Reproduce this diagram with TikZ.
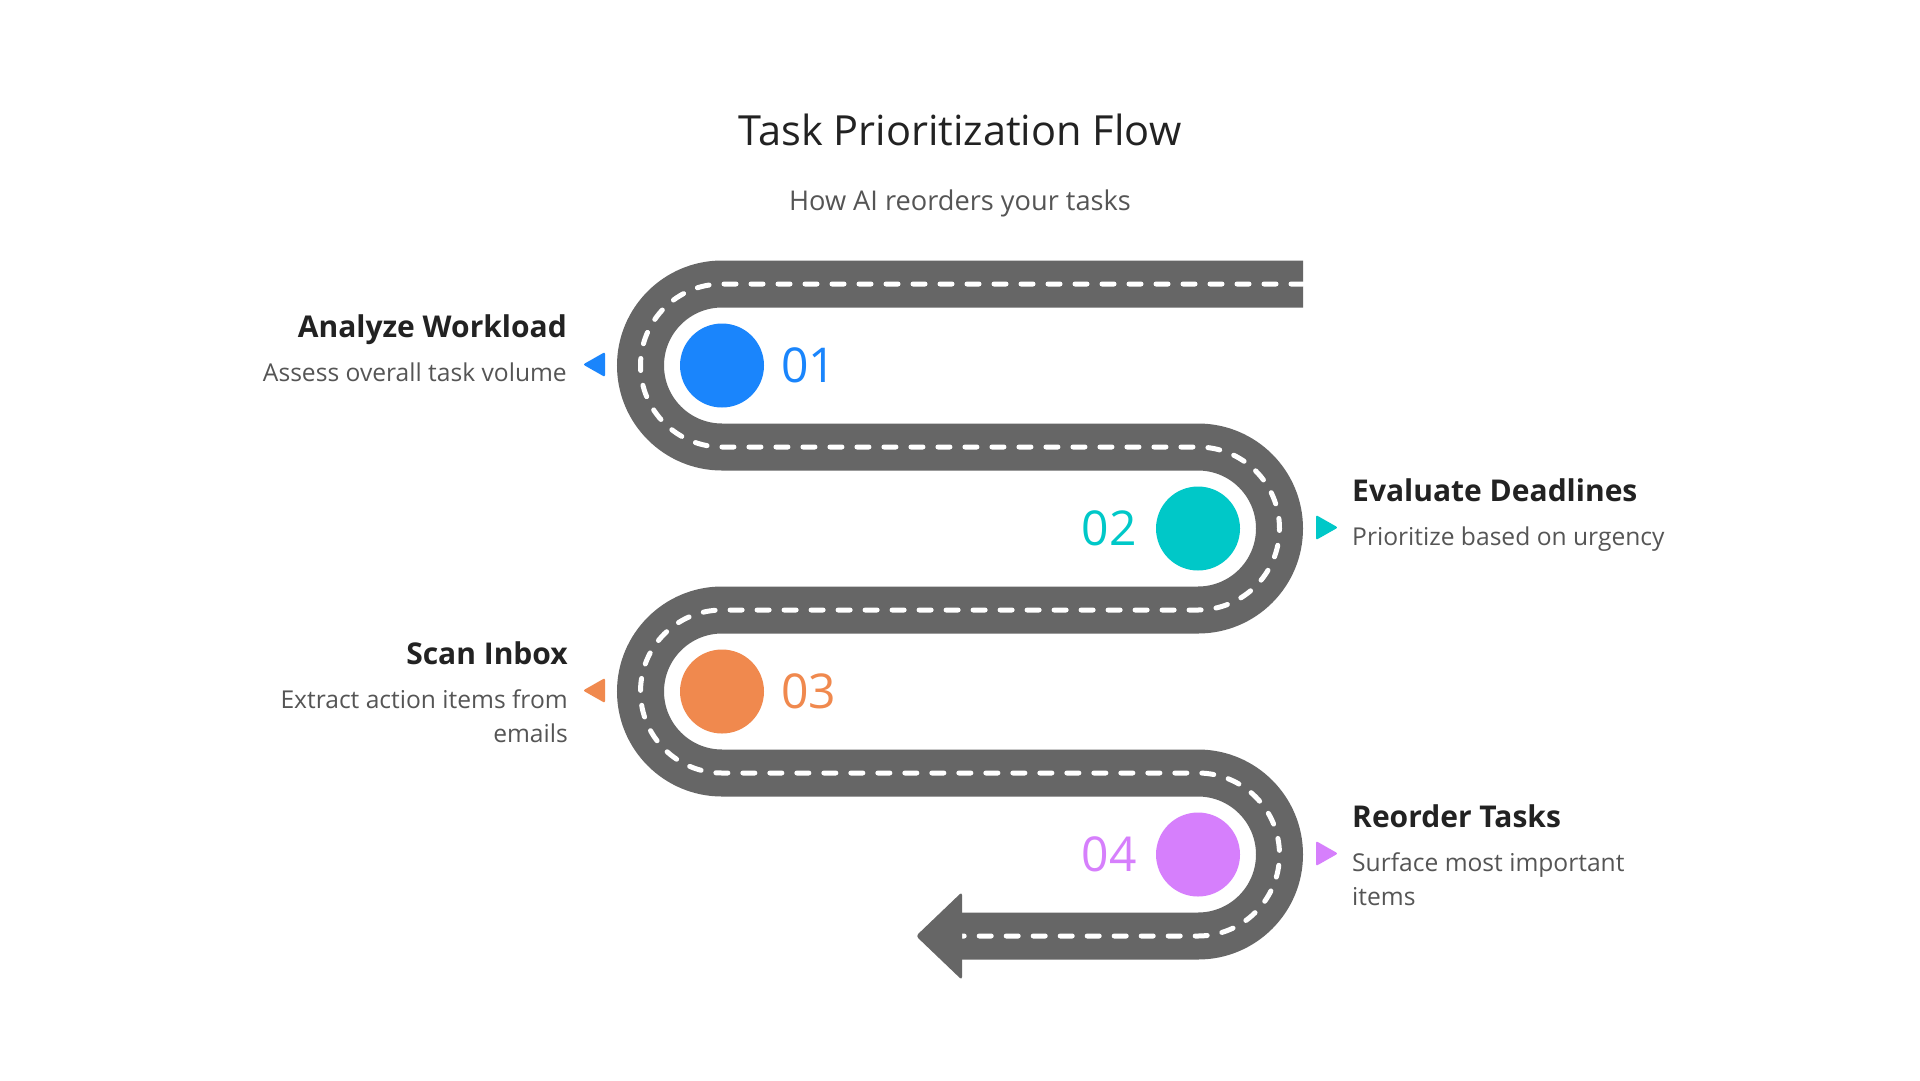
\documentclass[tikz,border=0pt]{standalone}
\usepackage{fontspec}
\setmainfont{Open Sans}
\usepackage{xcolor}

\definecolor{roadgray}{HTML}{666666}
\definecolor{textdark}{HTML}{222222}
\definecolor{textgray}{HTML}{555555}
\definecolor{stepblue}{HTML}{1A85FC}
\definecolor{stepteal}{HTML}{00C8C8}
\definecolor{steporange}{HTML}{F0894E}
\definecolor{steppurple}{HTML}{D67FFC}

\tikzset{
  road/.style={draw=roadgray, line width=47pt,
    postaction={draw=white, line width=5pt, line cap=round, dash pattern=on 12pt off 15pt}},
  stop/.style={circle, minimum size=84pt, inner sep=0pt},
  stepnum/.style={inner sep=0pt, font=\fontsize{48}{48}\selectfont},
  heading/.style={inner sep=0pt, text=textdark, font=\bfseries\fontsize{30}{34}\selectfont},
  desc/.style={inner sep=0pt, text=textgray, font=\fontsize{24.6}{34}\selectfont},
}

\begin{document}
\begin{tikzpicture}[x=1pt, y=-1pt]
	\fill[white] (0,0) rectangle (1920,1080);

	% title
	\node[anchor=base, inner sep=0pt, text=textdark, font=\fontsize{41.5}{48}\selectfont] (title) at (960,145) {Task Prioritization Flow};
	\node[anchor=base, inner sep=0pt, text=textgray, font=\fontsize{27.2}{32}\selectfont] (subtitle) at (960,210) {How AI reorders your tasks};

	% road
	\draw[road] (1303,284) -- (722,284)
		arc[start angle=-90, end angle=-270, radius=81.5] -- (1198,447)
		arc[start angle=-90, end angle=90, radius=81.5] -- (722,610)
		arc[start angle=-90, end angle=-270, radius=81.5] -- (1198,773)
		arc[start angle=-90, end angle=90, radius=81.5] -- (962,936);
	\fill[roadgray, rounded corners=3pt] (962,892) -- (916,936) -- (962,980) -- cycle;

	% stops
	\node[stop, fill=stepblue] (c1) at (722,365.5) {};
	\node[stop, fill=stepteal] (c2) at (1198,528.5) {};
	\node[stop, fill=steporange] (c3) at (722,691.5) {};
	\node[stop, fill=steppurple] (c4) at (1198,854.5) {};

	\node[stepnum, text=stepblue, anchor=west] (n1) at (781,365.5) {01};
	\node[stepnum, text=stepteal, anchor=east] (n2) at (1137,528.5) {02};
	\node[stepnum, text=steporange, anchor=west] (n3) at (781,691.5) {03};
	\node[stepnum, text=steppurple, anchor=east] (n4) at (1137,854.5) {04};

	% markers
	\fill[stepblue, rounded corners=2pt] (583,364.5) -- (605,352) -- (605,377) -- cycle;
	\fill[stepteal, rounded corners=2pt] (1338,527.5) -- (1316,515) -- (1316,540) -- cycle;
	\fill[steporange, rounded corners=2pt] (583,690.5) -- (605,678) -- (605,703) -- cycle;
	\fill[steppurple, rounded corners=2pt] (1338,853.5) -- (1316,841) -- (1316,866) -- cycle;

	% labels
	\node[heading, anchor=base east] (h1) at (567,337) {Analyze Workload};
	\node[desc, anchor=base east, align=right] (d1) at (567,381) {Assess overall task volume};

	\node[heading, anchor=base west] (h2) at (1352,501) {Evaluate Deadlines};
	\node[desc, anchor=base west, align=left] (d2) at (1352,545) {Prioritize based on urgency};

	\node[heading, anchor=base east] (h3) at (568,664) {Scan Inbox};
	\node[desc, anchor=base east, align=right] (d3) at (568,742) {Extract action items from\\emails};

	\node[heading, anchor=base west] (h4) at (1352,827) {Reorder Tasks};
	\node[desc, anchor=base west, align=left] (d4) at (1352,905) {Surface most important\\items};
\end{tikzpicture}
\end{document}
